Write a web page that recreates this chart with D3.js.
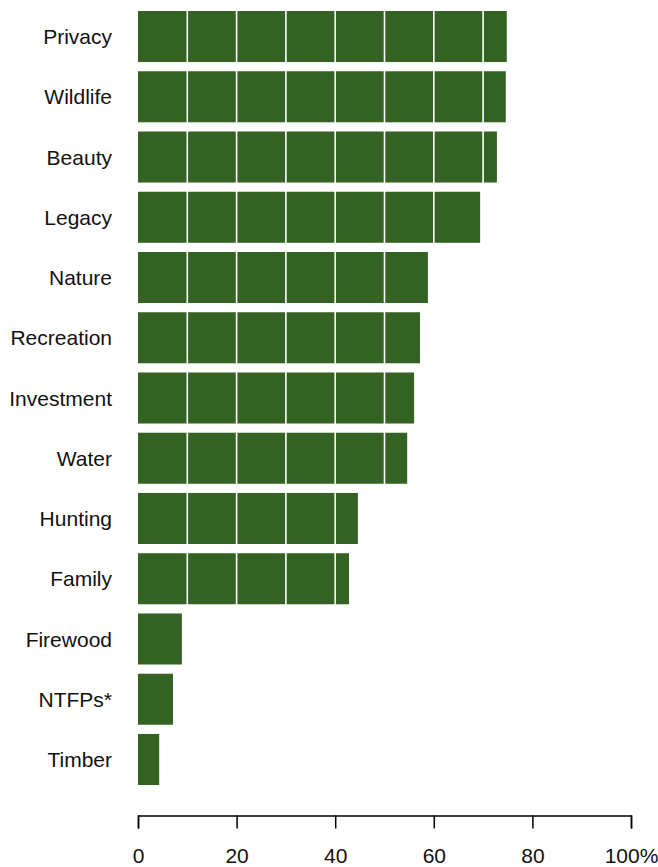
<!DOCTYPE html>
<html>
<head>
<meta charset="utf-8">
<script src="https://cdn.jsdelivr.net/npm/d3@7"></script>
<style>
  body { margin: 0; background: #fff; }
  text { font-family: "Liberation Sans", Arial, Helvetica, sans-serif; }
</style>
</head>
<body>
<div id="chart"></div>
<script>
// share of owners citing each reason (%)
const reasons = ["Privacy", "Wildlife", "Beauty", "Legacy", "Nature", "Recreation",
  "Investment", "Water", "Hunting", "Family", "Firewood", "NTFPs*", "Timber"];
const percents = [74.8, 74.6, 72.8, 69.4, 58.8, 57.2, 56.0, 54.6, 44.6, 42.8, 8.9, 7.1, 4.3];
const xTicks = [0, 20, 40, 60, 80, 100];
const gridValues = [10, 20, 30, 40, 50, 60, 70, 80, 90];

const width = 658,
    height = 867,
    margin = ({ top: 6.4, right: 27, bottom: 77.4, left: 138 });

const data = reasons.map((r, i) => ({ reason: r, value: percents[i] }));

const svg = d3.select("#chart")
  .append("svg")
  .attr("width", width)
  .attr("height", height)
  .attr("viewBox", [0, 0, width, height]);

let x = d3.scaleLinear()
    .domain([0, 100])
    .range([margin.left, width - margin.right]);

let y = d3.scaleBand()
    .domain(reasons)
    .range([margin.top, height - margin.bottom])
    .paddingInner(0.153)
    .paddingOuter(0.0765);

svg.append("g")
  .selectAll("rect")
  .data(data)
  .join("rect")
    .attr("x", x(0))
    .attr("y", d => y(d.reason))
    .attr("width", d => x(d.value) - x(0))
    .attr("height", y.bandwidth())
    .attr("fill", "#346222");

// white grid lines drawn on top of the bars
svg.append("g")
  .selectAll("line")
  .data(gridValues)
  .join("line")
    .attr("x1", d => x(d))
    .attr("x2", d => x(d))
    .attr("y1", y(reasons[0]))
    .attr("y2", y(reasons[reasons.length - 1]) + y.bandwidth())
    .attr("stroke", "#fff")
    .attr("stroke-width", 1.6);

svg.append("g")
  .selectAll("text")
  .data(data)
  .join("text")
    .attr("x", 112)
    .attr("y", d => y(d.reason) + y.bandwidth() / 2)
    .attr("dy", "0.36em")
    .attr("text-anchor", "end")
    .attr("font-size", 21)
    .attr("fill", "#111")
    .text(d => d.reason);

const xAxis = svg.append("g")
  .attr("transform", `translate(0,815.5)`)
  .call(d3.axisBottom(x)
    .tickValues(xTicks)
    .tickSizeOuter(0)
    .tickSize(13)
    .tickPadding(19.5)
    .tickFormat(d => d === 100 ? "100%" : d)
  );

xAxis.select(".domain").attr("stroke", "#000").attr("stroke-width", 1.5);
xAxis.selectAll(".tick line").attr("stroke", "#000").attr("stroke-width", 1.5);
xAxis.selectAll(".tick text")
  .attr("font-size", 21)
  .attr("fill", "#111")
  .style("font-family", "'Liberation Sans', Arial, sans-serif");
</script>
</body>
</html>
